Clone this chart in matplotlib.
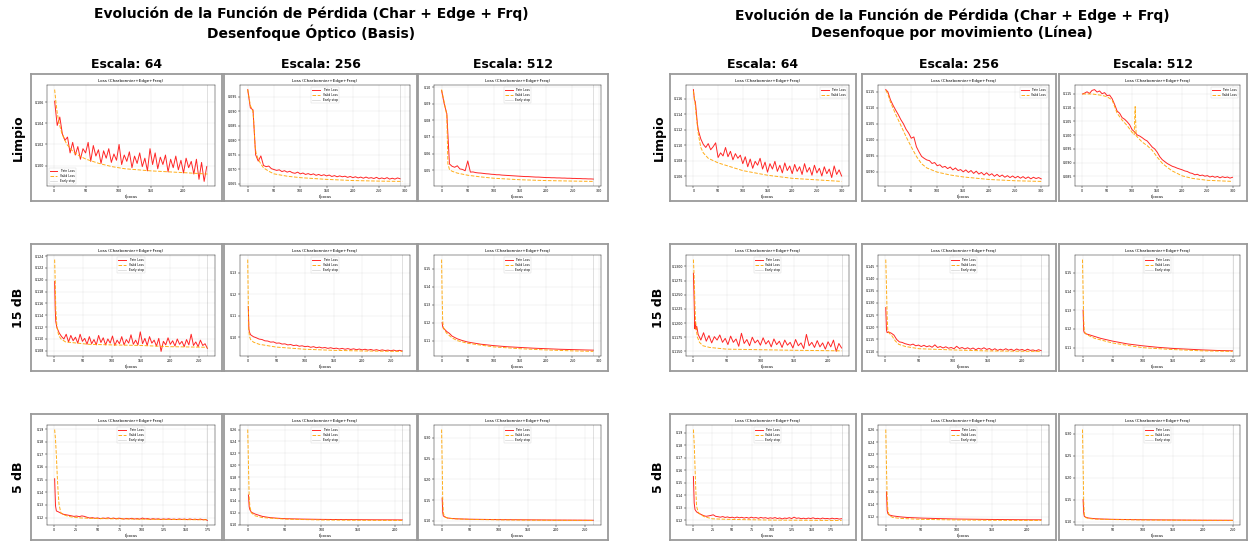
import numpy as np
import matplotlib.pyplot as plt
from matplotlib.ticker import MultipleLocator, ScalarFormatter

# ---------------- Desenfoque Óptico (Basis) ----------------
# Limpio / Escala 64
b_limpio_64_train_ep = list(range(1, 238, 4))
b_limpio_64_train = [0.1061, 0.1038, 0.1046, 0.1030, 0.1024, 0.1027, 0.1012, 0.1022, 0.1010, 0.1018,
                     0.1006, 0.1016, 0.1012, 0.1022, 0.1004, 0.1019, 0.1009, 0.1015, 0.1002, 0.1014,
                     0.1007, 0.1016, 0.1003, 0.1011, 0.1005, 0.1020, 0.1001, 0.1010, 0.1004, 0.1013,
                     0.0998, 0.1009, 0.1002, 0.1012, 0.0999, 0.1007, 0.0995, 0.1016, 0.1001, 0.1012,
                     0.0997, 0.1008, 0.1001, 0.1010, 0.0994, 0.1006, 0.0998, 0.1009, 0.0996, 0.1005,
                     0.0993, 0.1007, 0.0998, 0.1004, 0.0992, 0.1006, 0.0987, 0.1003, 0.0985, 0.0999]
b_limpio_64_valid_ep = [1, 3, 5, 8, 12, 16, 20, 30, 40, 50, 70, 90, 110, 130, 150, 180, 210, 238]
b_limpio_64_valid = [0.1072, 0.1060, 0.1050, 0.1040, 0.1031, 0.1025, 0.1020, 0.1013, 0.1009, 0.1006,
                     0.1002, 0.0999, 0.0997, 0.0996, 0.0995, 0.0994, 0.0993, 0.0992]

# Limpio / Escala 256
b_limpio_256_train_ep = list(range(0, 291, 5))
b_limpio_256_train = [0.0975, 0.0912, 0.0905, 0.0750, 0.0728, 0.0746, 0.0713, 0.0709, 0.0711, 0.0702,
                      0.0699, 0.0696, 0.0698, 0.0692, 0.0695, 0.0690, 0.0693, 0.0688, 0.0686, 0.0690,
                      0.0684, 0.0687, 0.0682, 0.0685, 0.0681, 0.0684, 0.0679, 0.0682, 0.0678, 0.0681,
                      0.0677, 0.0680, 0.0675, 0.0678, 0.0674, 0.0677, 0.0674, 0.0676, 0.0672, 0.0675,
                      0.0671, 0.0674, 0.0670, 0.0673, 0.0669, 0.0673, 0.0669, 0.0671, 0.0668, 0.0672,
                      0.0667, 0.0670, 0.0667, 0.0671, 0.0666, 0.0669, 0.0666, 0.0670, 0.0667]
b_limpio_256_valid_ep = [0, 5, 10, 12, 14, 16, 20, 25, 30, 40, 50, 75, 100, 150, 200, 250, 294]
b_limpio_256_valid = [0.0975, 0.0920, 0.0900, 0.0850, 0.0780, 0.0755, 0.0735, 0.0718, 0.0705, 0.0693,
                      0.0684, 0.0676, 0.0671, 0.0665, 0.0661, 0.0659, 0.0658]

# Limpio / Escala 512
b_limpio_512_train_ep = list(range(0, 291, 5))
b_limpio_512_train = [0.0980, 0.0900, 0.0840, 0.0538, 0.0524, 0.0518, 0.0527, 0.0508, 0.0505, 0.0497,
                      0.0556, 0.0489, 0.0490, 0.0486, 0.0484, 0.0483, 0.0481, 0.0479, 0.0478, 0.0476,
                      0.0475, 0.0473, 0.0473, 0.0471, 0.0470, 0.0469, 0.0468, 0.0467, 0.0466, 0.0465,
                      0.0464, 0.0463, 0.0462, 0.0462, 0.0461, 0.0460, 0.0459, 0.0459, 0.0458, 0.0457,
                      0.0456, 0.0456, 0.0455, 0.0455, 0.0454, 0.0454, 0.0453, 0.0453, 0.0452, 0.0452,
                      0.0451, 0.0451, 0.0450, 0.0450, 0.0449, 0.0449, 0.0448, 0.0448, 0.0447]
b_limpio_512_valid_ep = [0, 5, 10, 12, 15, 20, 30, 50, 75, 100, 150, 200, 250, 290]
b_limpio_512_valid = [0.0985, 0.0910, 0.0830, 0.0540, 0.0505, 0.0494, 0.0483, 0.0470, 0.0460, 0.0452,
                      0.0443, 0.0438, 0.0435, 0.0433]

# 15 dB / Escala 64
b_15db_64_train_ep = [1, 2, 3] + list(range(5, 266, 4))
b_15db_64_train = [0.1197, 0.1151, 0.1129,
                   0.1119, 0.1110, 0.1104, 0.1100, 0.1108, 0.1095, 0.1106, 0.1097, 0.1103, 0.1093,
                   0.1108, 0.1096, 0.1101, 0.1091, 0.1104, 0.1092, 0.1099, 0.1090, 0.1106, 0.1094,
                   0.1102, 0.1090, 0.1100, 0.1093, 0.1105, 0.1089, 0.1098, 0.1092, 0.1104, 0.1090,
                   0.1099, 0.1093, 0.1107, 0.1091, 0.1098, 0.1090, 0.1112, 0.1092, 0.1101, 0.1089,
                   0.1104, 0.1093, 0.1098, 0.1088, 0.1101, 0.1079, 0.1096, 0.1090, 0.1102, 0.1091,
                   0.1097, 0.1088, 0.1100, 0.1091, 0.1096, 0.1087, 0.1099, 0.1090, 0.1108, 0.1089,
                   0.1095, 0.1087, 0.1098, 0.1089, 0.1092, 0.1084]
b_15db_64_valid_ep = [1, 2, 3, 5, 8, 12, 20, 40, 60, 100, 150, 200, 265]
b_15db_64_valid = [0.1234, 0.1197, 0.1151, 0.1120, 0.1106, 0.1100, 0.1095, 0.1093, 0.1091, 0.1090,
                   0.1089, 0.1087, 0.1086]

# 15 dB / Escala 256
b_15db_256_train_ep = [1, 2, 3] + list(range(5, 271, 5))
b_15db_256_train = [0.1143, 0.1040, 0.1025,
                    0.1012, 0.1003, 0.0998, 0.0992, 0.0990, 0.0984, 0.0983, 0.0978, 0.0979, 0.0973,
                    0.0974, 0.0969, 0.0970, 0.0965, 0.0967, 0.0962, 0.0964, 0.0959, 0.0961, 0.0957,
                    0.0959, 0.0954, 0.0957, 0.0952, 0.0955, 0.0951, 0.0953, 0.0949, 0.0952, 0.0948,
                    0.0950, 0.0946, 0.0949, 0.0945, 0.0948, 0.0944, 0.0947, 0.0943, 0.0946, 0.0942,
                    0.0945, 0.0941, 0.0944, 0.0940, 0.0943, 0.0939, 0.0942, 0.0939, 0.0941, 0.0938,
                    0.0941, 0.0937, 0.0940, 0.0937]
b_15db_256_valid_ep = [0, 1, 2, 3, 5, 10, 20, 50, 100, 150, 200, 270]
b_15db_256_valid = [0.1360, 0.1150, 0.1030, 0.1005, 0.0990, 0.0978, 0.0968, 0.0955, 0.0945, 0.0940,
                    0.0937, 0.0935]

# 15 dB / Escala 512
b_15db_512_train_ep = [1, 2, 3, 5, 10, 15, 20, 30, 40, 50, 75, 100, 125, 150, 175, 200, 225, 250, 275, 290]
b_15db_512_train = [0.1200, 0.1180, 0.1170, 0.1165, 0.1150, 0.1140, 0.1125, 0.1110, 0.1100, 0.1092,
                    0.1080, 0.1072, 0.1066, 0.1062, 0.1058, 0.1055, 0.1052, 0.1050, 0.1048, 0.1047]
b_15db_512_valid_ep = [0, 1, 2, 3, 5, 10, 20, 30, 50, 100, 150, 200, 250, 290]
b_15db_512_valid = [0.1550, 0.1350, 0.1220, 0.1180, 0.1160, 0.1140, 0.1115, 0.1100, 0.1085, 0.1065,
                    0.1055, 0.1048, 0.1043, 0.1040]

# 5 dB / Escala 64
b_5db_64_train_ep = [1, 2, 3] + list(range(5, 176, 3)) + [175]
b_5db_64_train = [0.1507, 0.1292, 0.1252,
                  0.1246, 0.1235, 0.1226, 0.1222, 0.1218, 0.1214, 0.1209, 0.1212, 0.1207, 0.1213,
                  0.1209, 0.1202, 0.1196, 0.1199, 0.1194, 0.1197, 0.1191, 0.1196, 0.1193, 0.1198,
                  0.1191, 0.1196, 0.1190, 0.1195, 0.1192, 0.1188, 0.1193, 0.1189, 0.1194, 0.1188,
                  0.1192, 0.1187, 0.1196, 0.1189, 0.1192, 0.1186, 0.1191, 0.1187, 0.1190, 0.1185,
                  0.1189, 0.1186, 0.1190, 0.1185, 0.1188, 0.1184, 0.1189, 0.1185, 0.1188, 0.1183,
                  0.1189, 0.1184, 0.1187, 0.1183, 0.1188, 0.1182, 0.1185, 0.1177]
b_5db_64_valid_ep = [1, 2, 3, 4, 5, 6, 8, 10, 15, 20, 30, 50, 100, 175]
b_5db_64_valid = [0.1896, 0.1817, 0.1686, 0.1528, 0.1397, 0.1305, 0.1239, 0.1226, 0.1213, 0.1205,
                  0.1197, 0.1192, 0.1187, 0.1182]

# 5 dB / Escala 256
b_5db_256_train_ep = [1, 2, 3, 5, 10, 15, 20, 30, 40, 50, 75, 100, 125, 150, 175, 200, 210]
b_5db_256_train = [0.1500, 0.1300, 0.1250, 0.1210, 0.1180, 0.1160, 0.1140, 0.1120, 0.1110, 0.1102,
                   0.1095, 0.1090, 0.1087, 0.1085, 0.1083, 0.1082, 0.1081]
b_5db_256_valid_ep = [0, 1, 2, 3, 5, 10, 20, 50, 100, 150, 210]
b_5db_256_valid = [0.2600, 0.2000, 0.1450, 0.1300, 0.1200, 0.1150, 0.1120, 0.1095, 0.1080, 0.1075, 0.1072]

# 5 dB / Escala 512
b_5db_512_train_ep = [1, 2, 3, 5, 10, 20, 30, 50, 75, 100, 150, 200, 250, 265]
b_5db_512_train = [0.1550, 0.1200, 0.1120, 0.1100, 0.1070, 0.1055, 0.1048, 0.1040, 0.1035, 0.1030,
                   0.1025, 0.1020, 0.1017, 0.1015]
b_5db_512_valid_ep = [0, 1, 2, 3, 5, 10, 20, 50, 100, 150, 200, 265]
b_5db_512_valid = [0.3200, 0.2400, 0.1500, 0.1200, 0.1100, 0.1070, 0.1050, 0.1035, 0.1025, 0.1018,
                   0.1013, 0.1010]

# ---------------- Desenfoque por movimiento (Línea) ----------------
# Limpio / Escala 64
l_limpio_64_train_ep = [0, 2, 4, 6, 8] + list(range(10, 301, 5))
l_limpio_64_train = [0.1172, 0.1159, 0.1156, 0.1142, 0.1128,
                     0.1119, 0.1108, 0.1101, 0.1097, 0.1102, 0.1094, 0.1098, 0.1103, 0.1084, 0.1090,
                     0.1086, 0.1097, 0.1085, 0.1092, 0.1081, 0.1089, 0.1083, 0.1087, 0.1076, 0.1085,
                     0.1072, 0.1082, 0.1070, 0.1079, 0.1074, 0.1083, 0.1069, 0.1078, 0.1065, 0.1076,
                     0.1069, 0.1079, 0.1066, 0.1074, 0.1064, 0.1077, 0.1067, 0.1073, 0.1063, 0.1075,
                     0.1066, 0.1072, 0.1062, 0.1076, 0.1065, 0.1071, 0.1061, 0.1074, 0.1064, 0.1070,
                     0.1060, 0.1072, 0.1063, 0.1069, 0.1058, 0.1073, 0.1062, 0.1068, 0.1060]
l_limpio_64_valid_ep = [0, 3, 5, 8, 10, 15, 20, 30, 50, 75, 100, 150, 200, 250, 300]
l_limpio_64_valid = [0.1170, 0.1156, 0.1143, 0.1125, 0.1114, 0.1097, 0.1090, 0.1083, 0.1077, 0.1072,
                     0.1067, 0.1061, 0.1057, 0.1055, 0.1053]

# Limpio / Escala 256
l_limpio_256_train_ep = [1] + list(range(5, 301, 5))
l_limpio_256_train = [0.1157, 0.1150, 0.1125, 0.1108, 0.1093, 0.1079, 0.1063, 0.1050, 0.1033, 0.1021,
                      0.1005, 0.1009, 0.0978, 0.0962, 0.0948, 0.0942, 0.0937, 0.0935, 0.0926, 0.0929,
                      0.0919, 0.0922, 0.0914, 0.0917, 0.0910, 0.0915, 0.0906, 0.0912, 0.0904, 0.0907,
                      0.0900, 0.0906, 0.0898, 0.0904, 0.0895, 0.0902, 0.0893, 0.0898, 0.0890, 0.0897,
                      0.0889, 0.0894, 0.0886, 0.0892, 0.0885, 0.0890, 0.0883, 0.0888, 0.0882, 0.0887,
                      0.0881, 0.0886, 0.0880, 0.0885, 0.0879, 0.0884, 0.0878, 0.0883, 0.0879, 0.0882,
                      0.0878]
l_limpio_256_valid_ep = [1, 5, 10, 20, 30, 40, 50, 60, 70, 80, 100, 125, 150, 200, 250, 300]
l_limpio_256_valid = [0.1155, 0.1143, 0.1118, 0.1080, 0.1045, 0.1010, 0.0978, 0.0948, 0.0925, 0.0912,
                      0.0899, 0.0890, 0.0884, 0.0876, 0.0872, 0.0870]

# Limpio / Escala 512
l_limpio_512_train_ep = [1] + list(range(5, 301, 5))
l_limpio_512_train = [0.1150, 0.1153, 0.1158, 0.1152, 0.1163, 0.1166, 0.1157, 0.1161, 0.1151, 0.1155,
                      0.1144, 0.1146, 0.1133, 0.1112, 0.1088, 0.1080, 0.1064, 0.1058, 0.1049, 0.1038,
                      0.1020, 0.1012, 0.1001, 0.0997, 0.0991, 0.0984, 0.0979, 0.0968, 0.0957, 0.0950,
                      0.0938, 0.0922, 0.0911, 0.0904, 0.0897, 0.0892, 0.0887, 0.0884, 0.0880, 0.0877,
                      0.0874, 0.0870, 0.0868, 0.0863, 0.0861, 0.0856, 0.0858, 0.0853, 0.0855, 0.0851,
                      0.0853, 0.0848, 0.0851, 0.0847, 0.0850, 0.0845, 0.0849, 0.0846, 0.0848, 0.0844,
                      0.0847]
l_limpio_512_valid_ep = [1, 20, 40, 50, 60, 65, 70, 80, 90, 100, 104, 106, 108, 120, 130, 140, 150,
                         160, 170, 180, 200, 220, 250, 300]
l_limpio_512_valid = [0.1150, 0.1150, 0.1145, 0.1140, 0.1128, 0.1105, 0.1080, 0.1055, 0.1035, 0.1010,
                      0.1002, 0.1104, 0.0998, 0.0975, 0.0962, 0.0945, 0.0920, 0.0898, 0.0883, 0.0870,
                      0.0852, 0.0843, 0.0836, 0.0832]

# 15 dB / Escala 64
l_15db_64_train_ep = [1, 2, 3, 4, 5, 6] + list(range(8, 221, 4))
l_15db_64_train = [0.1288, 0.1243, 0.1190, 0.1202, 0.1188, 0.1194,
                   0.1180, 0.1170, 0.1183, 0.1168, 0.1178, 0.1165, 0.1176, 0.1170, 0.1179, 0.1166,
                   0.1173, 0.1162, 0.1177, 0.1166, 0.1172, 0.1159, 0.1182, 0.1164, 0.1171, 0.1160,
                   0.1175, 0.1165, 0.1170, 0.1161, 0.1174, 0.1163, 0.1169, 0.1158, 0.1172, 0.1162,
                   0.1168, 0.1157, 0.1170, 0.1161, 0.1166, 0.1156, 0.1171, 0.1160, 0.1165, 0.1155,
                   0.1180, 0.1160, 0.1166, 0.1157, 0.1169, 0.1158, 0.1165, 0.1154, 0.1167, 0.1158,
                   0.1170, 0.1150, 0.1164, 0.1156]
l_15db_64_valid_ep = [1, 2, 3, 4, 5, 7, 10, 15, 25, 50, 100, 150, 220]
l_15db_64_valid = [0.1312, 0.1285, 0.1243, 0.1208, 0.1190, 0.1175, 0.1166, 0.1160, 0.1157, 0.1154,
                   0.1153, 0.1152, 0.1151]

# 15 dB / Escala 256
l_15db_256_train_ep = [1, 2, 3] + list(range(5, 230, 4))
l_15db_256_train = [0.1281, 0.1189, 0.1178,
                    0.1181, 0.1176, 0.1168, 0.1150, 0.1140, 0.1138, 0.1133, 0.1130, 0.1127, 0.1131,
                    0.1124, 0.1127, 0.1121, 0.1126, 0.1120, 0.1124, 0.1118, 0.1128, 0.1117, 0.1121,
                    0.1115, 0.1120, 0.1114, 0.1117, 0.1112, 0.1122, 0.1113, 0.1117, 0.1111, 0.1116,
                    0.1110, 0.1115, 0.1108, 0.1114, 0.1110, 0.1116, 0.1109, 0.1113, 0.1106, 0.1112,
                    0.1105, 0.1110, 0.1106, 0.1112, 0.1106, 0.1110, 0.1104, 0.1111, 0.1106, 0.1109,
                    0.1104, 0.1110, 0.1105, 0.1107, 0.1103, 0.1108, 0.1104]
l_15db_256_valid_ep = [1, 2, 3, 4, 6, 10, 15, 20, 30, 50, 100, 150, 229]
l_15db_256_valid = [0.1478, 0.1371, 0.1247, 0.1185, 0.1176, 0.1165, 0.1144, 0.1130, 0.1121, 0.1112,
                    0.1107, 0.1103, 0.1101]

# 15 dB / Escala 512
l_15db_512_train_ep = [1, 2, 3, 5, 10, 20, 30, 50, 75, 100, 125, 150, 175, 200, 225, 250]
l_15db_512_train = [0.1300, 0.1190, 0.1180, 0.1175, 0.1170, 0.1160, 0.1150, 0.1135, 0.1120, 0.1110,
                    0.1102, 0.1096, 0.1092, 0.1088, 0.1085, 0.1083]
l_15db_512_valid_ep = [0, 1, 2, 3, 5, 10, 20, 50, 100, 150, 200, 250]
l_15db_512_valid = [0.1570, 0.1400, 0.1250, 0.1190, 0.1175, 0.1165, 0.1150, 0.1125, 0.1100, 0.1090,
                    0.1083, 0.1080]

# 5 dB / Escala 64
l_5db_64_train_ep = [1, 2, 3] + list(range(5, 189, 3))
l_5db_64_train = [0.1550, 0.1339, 0.1287,
                  0.1268, 0.1256, 0.1247, 0.1238, 0.1233, 0.1236, 0.1240, 0.1245, 0.1233, 0.1230,
                  0.1226, 0.1231, 0.1224, 0.1228, 0.1222, 0.1226, 0.1220, 0.1227, 0.1221, 0.1225,
                  0.1219, 0.1224, 0.1218, 0.1226, 0.1220, 0.1223, 0.1217, 0.1224, 0.1219, 0.1222,
                  0.1216, 0.1221, 0.1217, 0.1223, 0.1215, 0.1220, 0.1212, 0.1219, 0.1216, 0.1222,
                  0.1215, 0.1226, 0.1217, 0.1220, 0.1214, 0.1218, 0.1213, 0.1219, 0.1215, 0.1221,
                  0.1214, 0.1217, 0.1212, 0.1219, 0.1214, 0.1216, 0.1212, 0.1218, 0.1213, 0.1216,
                  0.1211, 0.1214]
l_5db_64_valid_ep = [1, 2, 3, 4, 5, 7, 10, 15, 25, 50, 100, 188]
l_5db_64_valid = [0.1924, 0.1813, 0.1629, 0.1445, 0.1313, 0.1266, 0.1247, 0.1229, 0.1213, 0.1208,
                  0.1203, 0.1200]

# 5 dB / Escala 256
l_5db_256_train_ep = [1, 2, 3, 5, 10, 20, 30, 50, 75, 100, 150, 200, 220]
l_5db_256_train = [0.1600, 0.1300, 0.1250, 0.1230, 0.1215, 0.1200, 0.1190, 0.1180, 0.1172, 0.1165,
                   0.1158, 0.1153, 0.1152]
l_5db_256_valid_ep = [0, 1, 2, 3, 5, 10, 20, 50, 100, 150, 220]
l_5db_256_valid = [0.2600, 0.2000, 0.1500, 0.1300, 0.1220, 0.1190, 0.1175, 0.1160, 0.1150, 0.1145, 0.1142]

# 5 dB / Escala 512
l_5db_512_train_ep = [1, 2, 3, 5, 10, 20, 30, 50, 100, 150, 200, 250]
l_5db_512_train = [0.1500, 0.1200, 0.1120, 0.1100, 0.1080, 0.1065, 0.1058, 0.1050, 0.1040, 0.1035,
                   0.1030, 0.1028]
l_5db_512_valid_ep = [0, 1, 2, 3, 5, 10, 20, 50, 100, 150, 200, 250]
l_5db_512_valid = [0.3100, 0.2300, 0.1450, 0.1150, 0.1090, 0.1070, 0.1055, 0.1045, 0.1035, 0.1030,
                   0.1026, 0.1024]

scales = ["Escala: 64", "Escala: 256", "Escala: 512"]
rows = ["Limpio", "15 dB", "5 dB"]
panel_titles = ["Evolución de la Función de Pérdida (Char + Edge + Frq)\nDesenfoque Óptico (Basis)",
                "Evolución de la Función de Pérdida (Char + Edge + Frq)\nDesenfoque por movimiento (Línea)"]

# (train_ep, train, valid_ep, valid, y step, x step, legend loc, early stop)
basis_cells = [
    [(b_limpio_64_train_ep, b_limpio_64_train, b_limpio_64_valid_ep, b_limpio_64_valid, 0.002, 50, "lower left", True),
     (b_limpio_256_train_ep, b_limpio_256_train, b_limpio_256_valid_ep, b_limpio_256_valid, 0.005, 50, "upper center", True),
     (b_limpio_512_train_ep, b_limpio_512_train, b_limpio_512_valid_ep, b_limpio_512_valid, 0.01, 50, "upper center", True)],
    [(b_15db_64_train_ep, b_15db_64_train, b_15db_64_valid_ep, b_15db_64_valid, 0.002, 50, "upper center", True),
     (b_15db_256_train_ep, b_15db_256_train, b_15db_256_valid_ep, b_15db_256_valid, 0.01, 50, "upper center", True),
     (b_15db_512_train_ep, b_15db_512_train, b_15db_512_valid_ep, b_15db_512_valid, 0.01, 50, "upper center", True)],
    [(b_5db_64_train_ep, b_5db_64_train, b_5db_64_valid_ep, b_5db_64_valid, 0.01, 25, "upper center", True),
     (b_5db_256_train_ep, b_5db_256_train, b_5db_256_valid_ep, b_5db_256_valid, 0.02, 50, "upper center", True),
     (b_5db_512_train_ep, b_5db_512_train, b_5db_512_valid_ep, b_5db_512_valid, 0.05, 50, "upper center", True)],
]
line_cells = [
    [(l_limpio_64_train_ep, l_limpio_64_train, l_limpio_64_valid_ep, l_limpio_64_valid, 0.002, 50, "upper right", False),
     (l_limpio_256_train_ep, l_limpio_256_train, l_limpio_256_valid_ep, l_limpio_256_valid, 0.005, 50, "upper right", False),
     (l_limpio_512_train_ep, l_limpio_512_train, l_limpio_512_valid_ep, l_limpio_512_valid, 0.005, 50, "upper right", False)],
    [(l_15db_64_train_ep, l_15db_64_train, l_15db_64_valid_ep, l_15db_64_valid, 0.0025, 50, "upper center", True),
     (l_15db_256_train_ep, l_15db_256_train, l_15db_256_valid_ep, l_15db_256_valid, 0.005, 50, "upper center", True),
     (l_15db_512_train_ep, l_15db_512_train, l_15db_512_valid_ep, l_15db_512_valid, 0.01, 50, "upper center", True)],
    [(l_5db_64_train_ep, l_5db_64_train, l_5db_64_valid_ep, l_5db_64_valid, 0.01, 25, "upper center", True),
     (l_5db_256_train_ep, l_5db_256_train, l_5db_256_valid_ep, l_5db_256_valid, 0.02, 50, "upper center", True),
     (l_5db_512_train_ep, l_5db_512_train, l_5db_512_valid_ep, l_5db_512_valid, 0.05, 50, "upper center", True)],
]

W, H = 1248, 543
fig = plt.figure(figsize=(W / 100, H / 100), dpi=100)


def rect(x0, y0, x1, y1):
    # pixel box (top-left origin) -> figure fraction
    return [x0 / W, 1 - y1 / H, (x1 - x0) / W, (y1 - y0) / H]


def draw_cell(box, cell):
    tr_ep, tr, va_ep, va, ystep, xstep, loc, early = cell
    x0, y0, x1, y1 = box
    frame = fig.add_axes(rect(x0, y0, x1, y1))
    frame.set_xticks([])
    frame.set_yticks([])
    for s in frame.spines.values():
        s.set_color("#9a9a9a")
        s.set_linewidth(1.3)

    ax = fig.add_axes(rect(x0 + 16, y0 + 11, x1 - 7, y1 - 15))
    ax.plot(tr_ep, tr, color="red", lw=0.7, alpha=0.85, label="Train Loss")
    ax.plot(va_ep, va, color="orange", lw=0.7, ls="--", alpha=0.9, label="Valid Loss")
    if early:
        ax.axvline(tr_ep[-1], color="gray", lw=0.5, alpha=0.35, label="Early stop")
    ax.set_title("Loss (Charbonnier+Edge+Freq)", fontsize=3, pad=2)
    ax.set_xlabel("Épocas", fontsize=2.6, labelpad=1)
    ax.yaxis.set_major_locator(MultipleLocator(ystep))
    ax.xaxis.set_major_locator(MultipleLocator(xstep))
    fmt = ScalarFormatter(useOffset=False)
    ax.yaxis.set_major_formatter(fmt)
    ax.tick_params(labelsize=2.3, length=1.2, width=0.3, pad=1)
    ax.grid(True, lw=0.3, alpha=0.35)
    for s in ax.spines.values():
        s.set_linewidth(0.3)
    ax.legend(loc=loc, fontsize=2.2, frameon=True, handlelength=2.5, borderpad=0.4,
              labelspacing=0.4, framealpha=0.8, edgecolor="#cccccc").get_frame().set_linewidth(0.3)


panels = [
    {"cells": basis_cells, "xs": [(31, 222), (224, 417), (418, 608)], "center": 311, "rowx": 18},
    {"cells": line_cells, "xs": [(670, 856), (862, 1056), (1059, 1247)], "center": 952, "rowx": 659},
]
row_ys = [(74, 201), (244, 371), (414, 540)]

for p, panel in enumerate(panels):
    fig.text(panel["center"] / W, 1 - 24 / H, panel_titles[p], ha="center", va="center",
             fontsize=10, fontweight="bold", linespacing=1.25)
    for c, (xa, xb) in enumerate(panel["xs"]):
        fig.text((xa + xb) / 2 / W, 1 - 64 / H, scales[c], ha="center", va="center",
                 fontsize=9, fontweight="bold")
    for r, (ya, yb) in enumerate(row_ys):
        fig.text(panel["rowx"] / W, 1 - (ya + yb) / 2 / H, rows[r], ha="center", va="center",
                 rotation=90, fontsize=9, fontweight="bold")
        for c, (xa, xb) in enumerate(panel["xs"]):
            draw_cell((xa, ya, xb, yb), panel["cells"][r][c])

fig.savefig("out.png", dpi=100, facecolor="white")
